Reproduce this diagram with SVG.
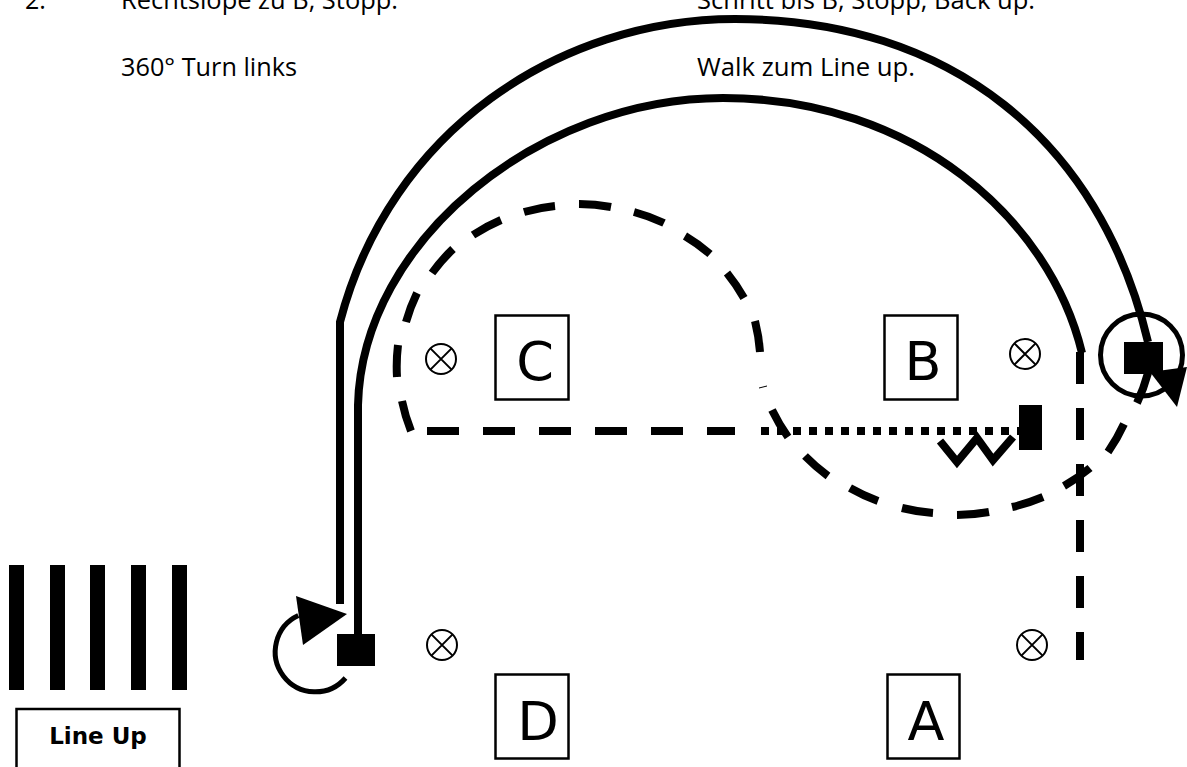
<svg xmlns="http://www.w3.org/2000/svg" width="1187" height="767" viewBox="0 0 1187 767">
<style>
.cap{font-family:"Open Sans","Liberation Sans",sans-serif;font-size:25px;fill:#000}
.let{font-family:"DejaVu Sans",sans-serif;font-size:54px;fill:#000;text-anchor:middle}
.box{fill:#fff;stroke:#000;stroke-width:2.5}
.pole circle{fill:#fff;stroke:#000;stroke-width:2}
.pole path{fill:none;stroke:#000;stroke-width:2}
.th{fill:none;stroke:#000;stroke-width:8}
.thin{fill:none;stroke:#000;stroke-width:5}
</style>
<defs>
<g id="x" class="pole"><circle r="15"/><path d="M-10.6-10.6L10.6 10.6M-10.6 10.6L10.6-10.6"/></g>
</defs>
<rect width="1187" height="767" fill="#fff"/>
<g id="captions">
<text class="cap" x="25" y="9">2.</text>
<text class="cap" x="121" y="9" textLength="277" lengthAdjust="spacingAndGlyphs">Rechtslope zu B, Stopp.</text>
<text class="cap" x="697" y="9" textLength="338" lengthAdjust="spacingAndGlyphs">Schritt bis B, Stopp, Back up.</text>
<text class="cap" x="121" y="76" textLength="176" lengthAdjust="spacingAndGlyphs">360° Turn links</text>
<text class="cap" x="697" y="76" textLength="218" lengthAdjust="spacingAndGlyphs">Walk zum Line up.</text>
</g>
<g id="connectors">
<path class="th" d="M340 604V322C390 130 560 19 735 19C950 19 1100 140 1148 342"/>
<path class="th" d="M358 636V405C362 240 540 98 723 98C915 98 1050 220 1082 353"/>
<path class="th" d="M1080 352V660" stroke-dasharray="32 24"/>
<path class="th" d="M427 431H735" stroke-dasharray="32 24"/>
<path class="th" d="M761 431H1020" stroke-dasharray="8 8"/>
<path class="th" d="M411 431A180 180 0 0 1 402 401M397 377A180 180 0 0 1 398 345M406 322A180 180 0 0 1 417 293M432 273A180 180 0 0 1 453 249M473 235A180 180 0 0 1 501 220M524 212A180 180 0 0 1 555 206M579 204A180 180 0 0 1 611 207M634 212A180 180 0 0 1 664 223M685 236A180 180 0 0 1 710 254M727 273A180 180 0 0 1 744 298M755 321A180 180 0 0 1 760 352"/>
<path class="th" d="M772 410A190 190 0 0 0 788 437M805 456A190 190 0 0 0 828 476M850 488A190 190 0 0 0 878 501M902 508A190 190 0 0 0 933 513M957 515A190 190 0 0 0 989 512M1012 507A190 190 0 0 0 1043 497M1064 486A190 190 0 0 0 1090 468M1108 452A190 190 0 0 0 1124 424M1137 403A190 190 0 0 0 1148 373"/>
<path d="M759 388L767 386" fill="none" stroke="#000" stroke-width="1"/>
<path d="M940 441L957 462L977 438L993 460L1013 437" fill="none" stroke="#000" stroke-width="8"/>
<path class="thin" d="M345.500 678A40 40 0 1 1 298.300 615.600"/>
<circle class="thin" cx="1141.500" cy="355" r="41"/>
<path d="M296 596L347 614L303 645Z"/>
<path d="M1150 372L1187 367L1177 407Z"/>
</g>
<g id="start-square"><rect x="337" y="634" width="38" height="32"/></g>
<g id="b-stop"><rect x="1019" y="405" width="23" height="45"/></g>
<g id="end-square"><rect x="1124" y="342" width="39" height="32"/></g>
<g id="line-up-bars">
<rect x="9" y="565" width="15" height="125"/>
<rect x="50" y="565" width="15" height="125"/>
<rect x="90" y="565" width="15" height="125"/>
<rect x="131" y="565" width="15" height="125"/>
<rect x="172" y="565" width="15" height="125"/>
</g>
<g id="line-up">
<rect class="box" x="16.500" y="709" width="163" height="70"/>
<text x="98" y="744" font-family="'DejaVu Sans',sans-serif" font-size="23" font-weight="bold" text-anchor="middle">Line Up</text>
</g>
<g id="marker-c"><rect class="box" x="495.500" y="315.500" width="73" height="84"/><text class="let" x="535" y="380">C</text></g>
<g id="marker-b"><rect class="box" x="884.500" y="315.500" width="73" height="84"/><text class="let" x="923" y="380">B</text></g>
<g id="marker-d"><rect class="box" x="495.500" y="674.500" width="73" height="84"/><text class="let" x="538" y="740">D</text></g>
<g id="marker-a"><rect class="box" x="887.500" y="674.500" width="72" height="84"/><text class="let" x="926" y="740">A</text></g>
<g id="pole-c"><use href="#x" x="441" y="359"/></g>
<g id="pole-b"><use href="#x" x="1025" y="354"/></g>
<g id="pole-d"><use href="#x" x="442" y="645"/></g>
<g id="pole-a"><use href="#x" x="1032" y="645"/></g>
</svg>
